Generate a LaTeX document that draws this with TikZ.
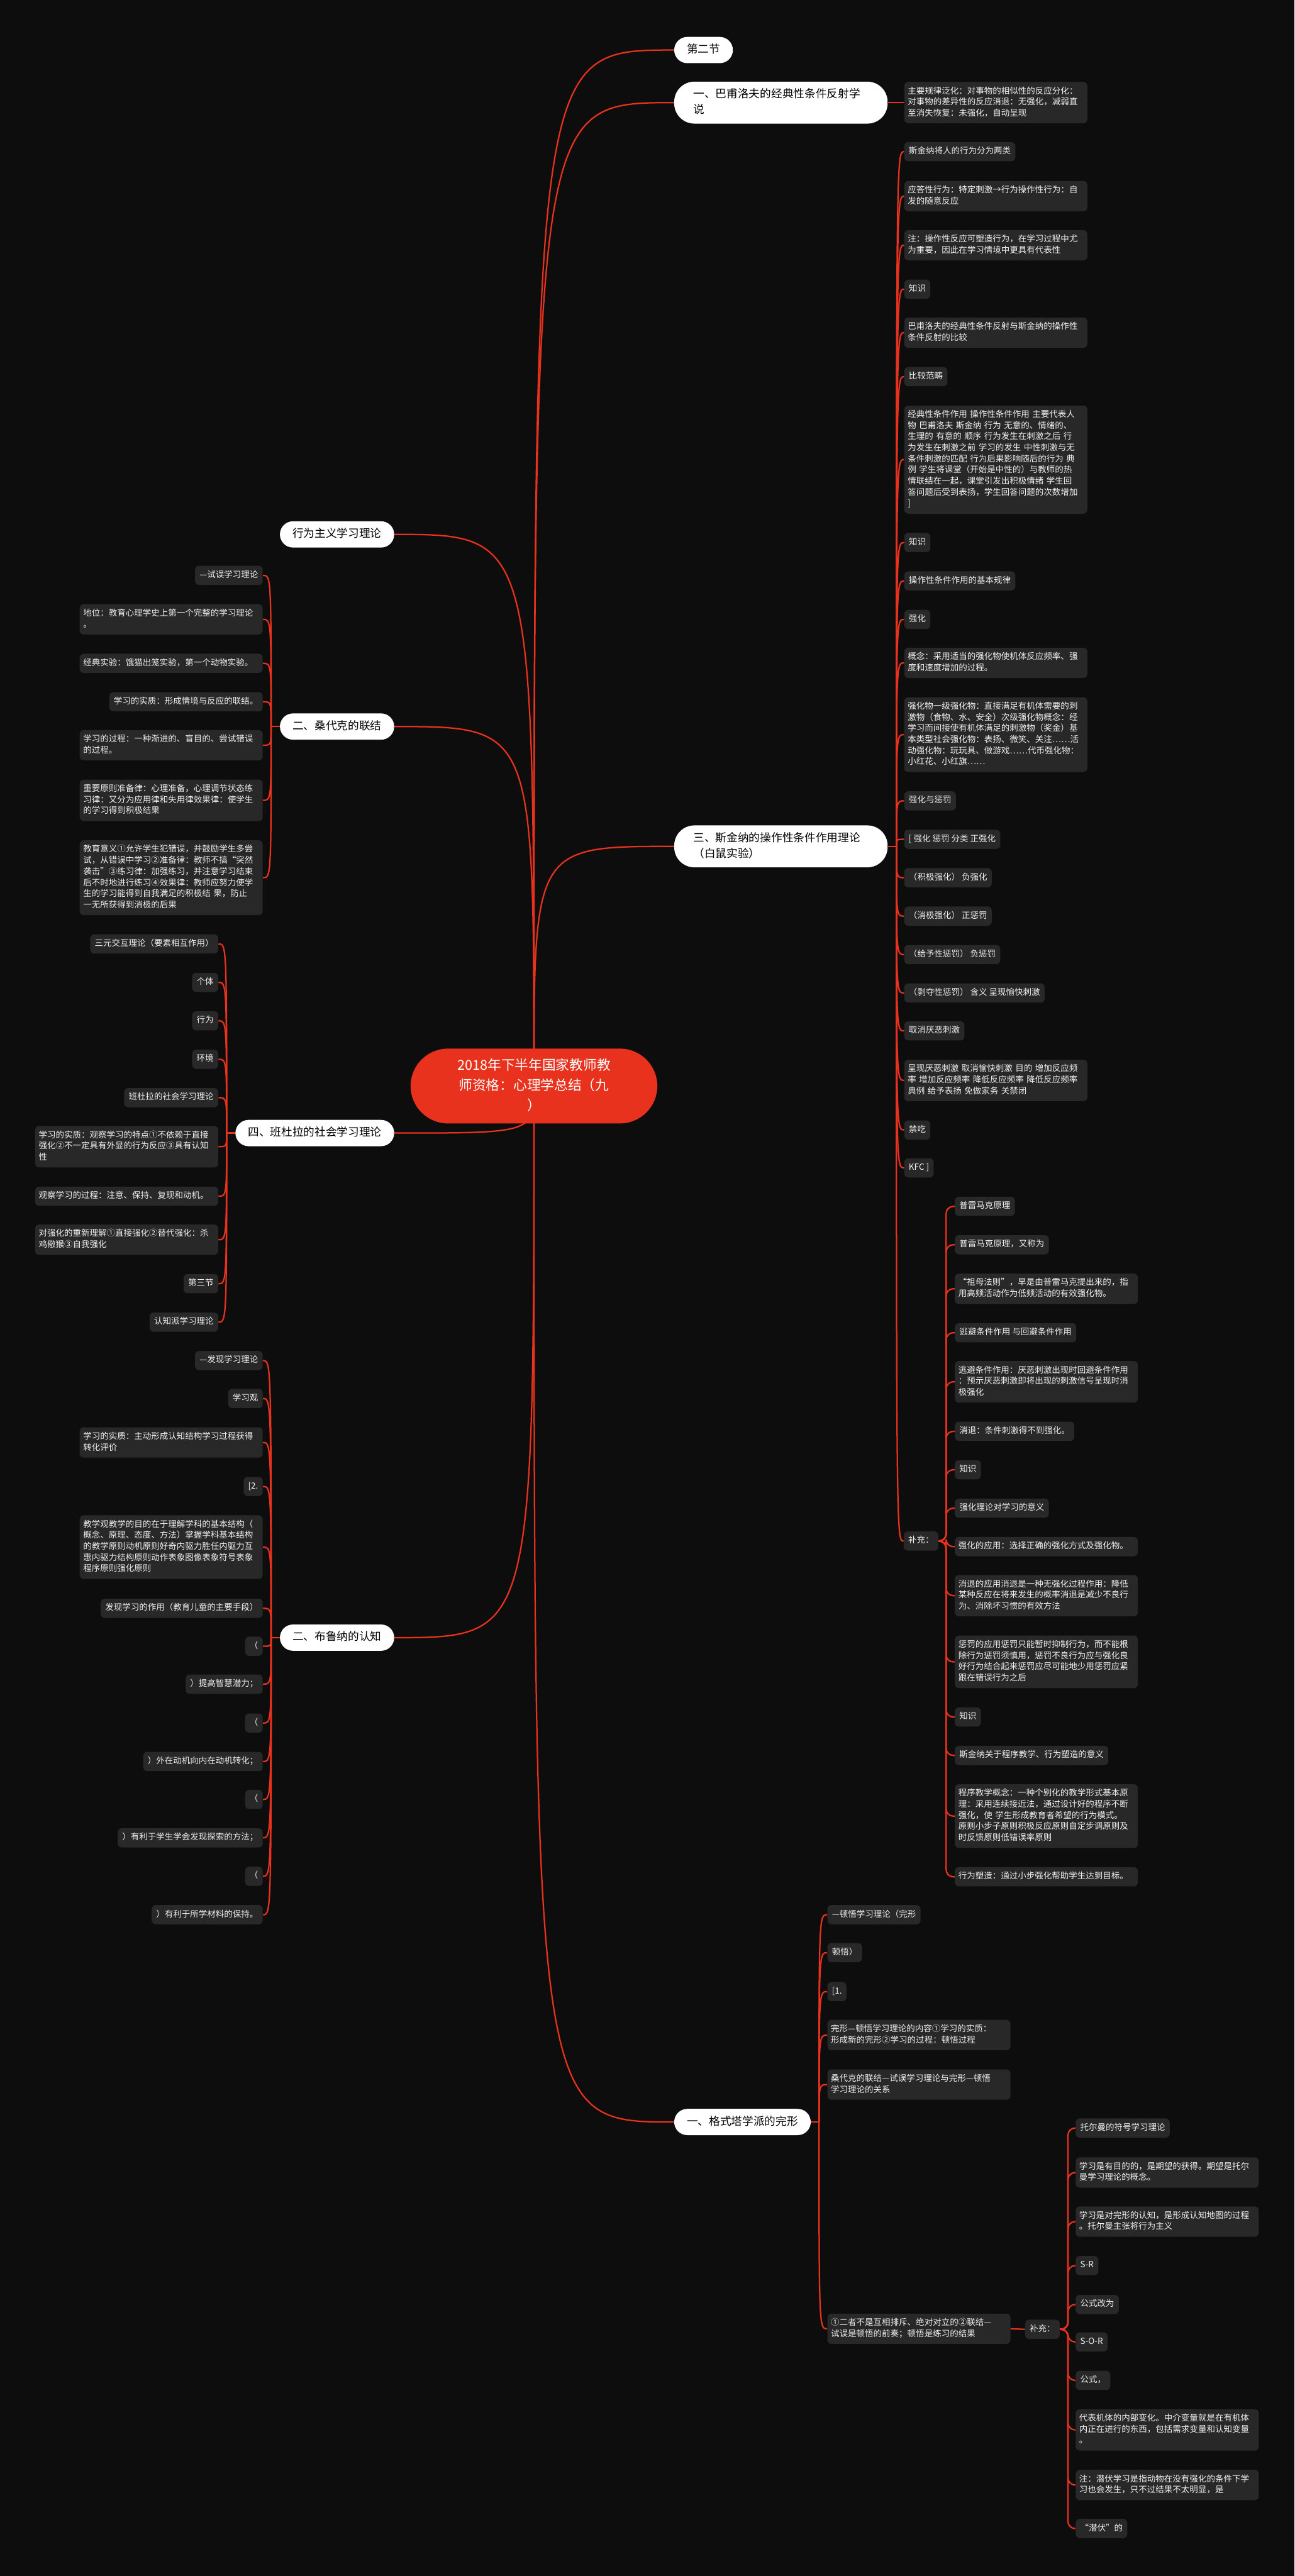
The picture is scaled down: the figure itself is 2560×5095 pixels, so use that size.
\documentclass[tikz,border=0pt]{standalone}
\usepackage{fontspec}
\newfontfamily\cjk{Noto Sans CJK SC}
\definecolor{bgc}{RGB}{13,13,13}
\definecolor{leafc}{RGB}{40,40,40}
\definecolor{redc}{RGB}{232,50,30}
\definecolor{txtc}{RGB}{242,242,242}
\pgfdeclarelayer{bglayer}
\pgfsetlayers{bglayer,main}
\begin{document}
\begin{tikzpicture}[x=0.5pt,y=-0.5pt,
  conn/.style={draw=redc, line width=1.4pt},
  leaf/.style={fill=leafc, rounded corners=4pt, text=txtc, font=\cjk\fontsize{8.4}{11}\selectfont, inner xsep=4.5pt, inner ysep=4pt, execute at begin node=\strut, execute at end node=\strut},
  leafw/.style={leaf, inner xsep=3.5pt, text width=174pt, align=left},
  brn/.style={fill=white, text=black, rounded corners=13pt, font=\cjk\fontsize{11}{15.5}\selectfont, inner xsep=12.5pt, inner ysep=5.25pt, execute at begin node=\strut, execute at end node=\strut},
  brw/.style={brn, rounded corners=20pt, inner xsep=19pt, text width=173pt, align=left},
  ctr/.style={fill=redc, text=white, rounded corners=37pt, font=\cjk\fontsize{13.5}{20}\selectfont, text width=170pt, align=center, inner xsep=37pt, inner ysep=7pt, execute at begin node=\strut, execute at end node=\strut}
]
\useasboundingbox (0,0) rectangle (2560,5095);
\begin{pgfonlayer}{bglayer}
\fill[bgc] (0,0) rectangle (2560,5095);
\end{pgfonlayer}

% center
\node[ctr] (c) at (1056,2148) {2018年下半年国家教师教\\师资格：心理学总结（九\\）};

% right branches
\node[brn, anchor=west] (r1) at (1333,99) {第二节};
\node[brw, anchor=west] (r2) at (1333,203) {一、巴甫洛夫的经典性条件反射学\\说};
\node[brw, anchor=west] (r3) at (1333,1674) {三、斯金纳的操作性条件作用理论\\（白鼠实验）};
\node[brn, anchor=west] (r4) at (1333,4197) {一、格式塔学派的完形};
% left branches
\node[brn, anchor=east] (l1) at (780,1057) {行为主义学习理论};
\node[brn, anchor=east] (l2) at (780,1437) {二、桑代克的联结};
\node[brn, anchor=east] (l3) at (780,2241) {四、班杜拉的社会学习理论};
\node[brn, anchor=east] (l4) at (780,3239) {二、布鲁纳的认知};

% Pavlov leaf
\node[leafw, anchor=west] (p1) at (1788,203) {主要规律泛化：对事物的相似性的反应分化：\\对事物的差异性的反应消退：无强化，减弱直\\至消失恢复：未强化，自动呈现};

% Skinner leaves
\node[leaf, anchor=west] (s1) at (1788,300) {斯金纳将人的行为分为两类};
\node[leafw, anchor=west] (s2) at (1788,388) {应答性行为：特定刺激→行为操作性行为：自\\发的随意反应};
\node[leafw, anchor=west] (s3) at (1788,485) {注：操作性反应可塑造行为，在学习过程中尤\\为重要，因此在学习情境中更具有代表性};
\node[leaf, anchor=west] (s4) at (1788,572) {知识};
\node[leafw, anchor=west] (s5) at (1788,658) {巴甫洛夫的经典性条件反射与斯金纳的操作性\\条件反射的比较};
\node[leaf, anchor=west] (s6) at (1788,745) {比较范畴};
\node[leafw, anchor=west] (s7) at (1788,909) {经典性条件作用 操作性条件作用 主要代表人\\物 巴甫洛夫 斯金纳 行为 无意的、情绪的、\\生理的 有意的 顺序 行为发生在刺激之后 行\\为发生在刺激之前 学习的发生 中性刺激与无\\条件刺激的匹配 行为后果影响随后的行为 典\\例 学生将课堂（开始是中性的）与教师的热\\情联结在一起，课堂引发出积极情绪 学生回\\答问题后受到表扬，学生回答问题的次数增加\\ ]};
\node[leaf, anchor=west] (s8) at (1788,1073) {知识};
\node[leaf, anchor=west] (s9) at (1788,1149) {操作性条件作用的基本规律};
\node[leaf, anchor=west] (s10) at (1788,1225) {强化};
\node[leafw, anchor=west] (s11) at (1788,1311) {概念：采用适当的强化物使机体反应频率、强\\度和速度增加的过程。};
\node[leafw, anchor=west] (s12) at (1788,1453) {强化物一级强化物：直接满足有机体需要的刺\\激物（食物、水、安全）次级强化物概念：经\\学习而间接使有机体满足的刺激物（奖金）基\\本类型社会强化物：表扬、微笑、关注……活\\动强化物：玩玩具、做游戏……代币强化物：\\小红花、小红旗……};
\node[leaf, anchor=west] (s13) at (1788,1584) {强化与惩罚};
\node[leaf, anchor=west] (s14) at (1788,1660) {[ 强化 惩罚 分类 正强化};
\node[leaf, anchor=west] (s15) at (1788,1736) {（积极强化） 负强化};
\node[leaf, anchor=west] (s16) at (1788,1812) {（消极强化） 正惩罚};
\node[leaf, anchor=west] (s17) at (1788,1888) {（给予性惩罚） 负惩罚};
\node[leaf, anchor=west] (s18) at (1788,1964) {（剥夺性惩罚） 含义 呈现愉快刺激};
\node[leaf, anchor=west] (s19) at (1788,2039) {取消厌恶刺激};
\node[leafw, anchor=west] (s20) at (1788,2137) {呈现厌恶刺激 取消愉快刺激 目的 增加反应频\\率 增加反应频率 降低反应频率 降低反应频率\\ 典例 给予表扬 免做家务 关禁闭};
\node[leaf, anchor=west] (s21) at (1788,2235) {禁吃};
\node[leaf, anchor=west] (s22) at (1788,2310) {KFC ]};
\node[leaf, anchor=west] (sb) at (1787,3048) {补充：};

% Skinner supplement children
\node[leaf, anchor=west] (sb1) at (1888,2386) {普雷马克原理};
\node[leaf, anchor=west] (sb2) at (1888,2462) {普雷马克原理，又称为};
\node[leafw, anchor=west] (sb3) at (1888,2549) {“祖母法则”，早是由普雷马克提出来的，指\\用高频活动作为低频活动的有效强化物。};
\node[leaf, anchor=west] (sb4) at (1888,2636) {逃避条件作用 与回避条件作用};
\node[leafw, anchor=west] (sb5) at (1888,2733) {逃避条件作用：厌恶刺激出现时回避条件作用\\：预示厌恶刺激即将出现的刺激信号呈现时消\\极强化};
\node[leaf, anchor=west] (sb6) at (1888,2831) {消退：条件刺激得不到强化。};
\node[leaf, anchor=west] (sb7) at (1888,2907) {知识};
\node[leaf, anchor=west] (sb8) at (1888,2983) {强化理论对学习的意义};
\node[leafw, anchor=west] (sb9) at (1888,3059) {强化的应用：选择正确的强化方式及强化物。};
\node[leafw, anchor=west] (sb10) at (1888,3156) {消退的应用消退是一种无强化过程作用：降低\\某种反应在将来发生的概率消退是减少不良行\\为、消除坏习惯的有效方法};
\node[leafw, anchor=west] (sb11) at (1888,3287) {惩罚的应用惩罚只能暂时抑制行为，而不能根\\除行为惩罚须慎用，惩罚不良行为应与强化良\\好行为结合起来惩罚应尽可能地少用惩罚应紧\\跟在错误行为之后};
\node[leaf, anchor=west] (sb12) at (1888,3396) {知识};
\node[leaf, anchor=west] (sb13) at (1888,3472) {斯金纳关于程序教学、行为塑造的意义};
\node[leafw, anchor=west] (sb14) at (1888,3592) {程序教学概念：一种个别化的教学形式基本原\\理：采用连续接近法，通过设计好的程序不断\\强化，使 学生形成教育者希望的行为模式。\\原则小步子原则积极反应原则自定步调原则及\\时反馈原则低错误率原则};
\node[leafw, anchor=west] (sb15) at (1888,3712) {行为塑造：通过小步强化帮助学生达到目标。};

% Thorndike leaves
\node[leaf, anchor=east] (t1) at (520,1138) {—试误学习理论};
\node[leafw, anchor=east] (t2) at (520,1225) {地位：教育心理学史上第一个完整的学习理论\\。};
\node[leafw, anchor=east] (t3) at (520,1312) {经典实验：饿猫出笼实验，第一个动物实验。};
\node[leaf, anchor=east] (t4) at (520,1388) {学习的实质：形成情境与反应的联结。};
\node[leafw, anchor=east] (t5) at (520,1474) {学习的过程：一种渐进的、盲目的、尝试错误\\的过程。};
\node[leafw, anchor=east] (t6) at (520,1583) {重要原则准备律：心理准备，心理调节状态练\\习律：又分为应用律和失用律效果律：使学生\\的学习得到积极结果};
\node[leafw, anchor=east] (t7) at (520,1736) {教育意义①允许学生犯错误，并鼓励学生多尝\\试，从错误中学习②准备律：教师不搞“突然\\袭击”③练习律：加强练习，并注意学习结束\\后不时地进行练习④效果律：教师应努力使学\\生的学习能得到自我满足的积极结 果，防止\\一无所获得到消极的后果};

% Bandura leaves
\node[leaf, anchor=east] (n1) at (432,1867) {三元交互理论（要素相互作用）};
\node[leaf, anchor=east] (n2) at (432,1943) {个体};
\node[leaf, anchor=east] (n3) at (432,2019) {行为};
\node[leaf, anchor=east] (n4) at (432,2095) {环境};
\node[leaf, anchor=east] (n5) at (432,2171) {班杜拉的社会学习理论};
\node[leafw, anchor=east] (n6) at (432,2268) {学习的实质：观察学习的特点①不依赖于直接\\强化②不一定具有外显的行为反应③具有认知\\性};
\node[leafw, anchor=east] (n7) at (432,2366) {观察学习的过程：注意、保持、复现和动机。};
\node[leafw, anchor=east] (n8) at (432,2452) {对强化的重新理解①直接强化②替代强化：杀\\鸡儆猴③自我强化};
\node[leaf, anchor=east] (n9) at (432,2539) {第三节};
\node[leaf, anchor=east] (n10) at (432,2615) {认知派学习理论};

% Bruner leaves
\node[leaf, anchor=east] (b1) at (520,2691) {—发现学习理论};
\node[leaf, anchor=east] (b2) at (520,2766) {学习观};
\node[leafw, anchor=east] (b3) at (520,2853) {学习的实质：主动形成认知结构学习过程获得\\转化评价};
\node[leaf, anchor=east] (b4) at (520,2940) {[2.};
\node[leafw, anchor=east] (b5) at (520,3060) {教学观教学的目的在于理解学科的基本结构（\\概念、原理、态度、方法）掌握学科基本结构\\的教学原则动机原则好奇内驱力胜任内驱力互\\惠内驱力结构原则动作表象图像表象符号表象\\程序原则强化原则};
\node[leaf, anchor=east] (b6) at (520,3181) {发现学习的作用（教育儿童的主要手段）};
\node[leaf, anchor=east] (b7) at (520,3256) {（};
\node[leaf, anchor=east] (b8) at (520,3331) {）提高智慧潜力；};
\node[leaf, anchor=east] (b9) at (520,3408) {（};
\node[leaf, anchor=east] (b10) at (520,3484) {）外在动机向内在动机转化；};
\node[leaf, anchor=east] (b11) at (520,3559) {（};
\node[leaf, anchor=east] (b12) at (520,3635) {）有利于学生学会发现探索的方法；};
\node[leaf, anchor=east] (b13) at (520,3711) {（};
\node[leaf, anchor=east] (b14) at (520,3787) {）有利于所学材料的保持。};

% Gestalt leaves
\node[leaf, anchor=west] (g1) at (1636,3787) {—顿悟学习理论（完形};
\node[leaf, anchor=west] (g2) at (1636,3862) {顿悟）};
\node[leaf, anchor=west] (g3) at (1636,3939) {[1.};
\node[leafw, anchor=west] (g4) at (1636,4025) {完形—顿悟学习理论的内容①学习的实质：\\形成新的完形②学习的过程：顿悟过程};
\node[leafw, anchor=west] (g5) at (1636,4123) {桑代克的联结—试误学习理论与完形—顿悟\\学习理论的关系};
\node[leafw, anchor=west] (g6) at (1636,4606) {①二者不是互相排斥、绝对对立的②联结—\\试误是顿悟的前奏；顿悟是练习的结果};
\node[leaf, anchor=west] (gb) at (2027,4607) {补充：};

% Gestalt supplement children
\node[leaf, anchor=west] (gb1) at (2127,4209) {托尔曼的符号学习理论};
\node[leafw, anchor=west] (gb2) at (2127,4297) {学习是有目的的，是期望的获得。期望是托尔\\曼学习理论的概念。};
\node[leafw, anchor=west] (gb3) at (2127,4394) {学习是对完形的认知，是形成认知地图的过程\\。托尔曼主张将行为主义};
\node[leaf, anchor=west] (gb4) at (2127,4481) {S-R};
\node[leaf, anchor=west] (gb5) at (2127,4558) {公式改为};
\node[leaf, anchor=west] (gb6) at (2127,4632) {S-O-R};
\node[leaf, anchor=west] (gb7) at (2127,4708) {公式，};
\node[leafw, anchor=west] (gb8) at (2127,4806) {代表机体的内部变化。中介变量就是在有机体\\内正在进行的东西，包括需求变量和认知变量\\。};
\node[leafw, anchor=west] (gb9) at (2127,4915) {注：潜伏学习是指动物在没有强化的条件下学\\习也会发生，只不过结果不太明显，是};
\node[leaf, anchor=west] (gb10) at (2127,5001) {“潜伏”的};

% connectors
\begin{pgfonlayer}{bglayer}
\foreach \b in {r1,r2,r3,r4} {
  \draw[conn] (c.center) .. controls (c.center |- \b.west) .. (\b.west);
}
\foreach \b in {l1,l2,l3,l4} {
  \draw[conn] (c.center) .. controls (c.center |- \b.east) .. (\b.east);
}
\draw[conn] (r2.east) -- (p1.west);
% Skinner
\path (r3.east) ++(17,0) coordinate (r3s);
\draw[conn] (r3.east) -- (r3s);
\foreach \i in {1,...,22} {
  \draw[conn] (r3s) .. controls (r3s |- s\i.west) .. (s\i.west);
}
\draw[conn] (r3s) .. controls (r3s |- sb.west) .. (sb.west);
\path (sb.east) ++(15,0) coordinate (sbs);
\foreach \i in {1,...,15} {
  \draw[conn, rounded corners=7pt] (sb.east) -- (sbs) |- (sb\i.west);
}
% Thorndike
\path (l2.west) ++(-17,0) coordinate (l2s);
\draw[conn] (l2.west) -- (l2s);
\foreach \i in {1,...,7} {
  \draw[conn] (l2s) .. controls (l2s |- t\i.east) .. (t\i.east);
}
% Bandura
\path (l3.west) ++(-17,0) coordinate (l3s);
\draw[conn] (l3.west) -- (l3s);
\foreach \i in {1,...,10} {
  \draw[conn] (l3s) .. controls (l3s |- n\i.east) .. (n\i.east);
}
% Bruner
\path (l4.west) ++(-17,0) coordinate (l4s);
\draw[conn] (l4.west) -- (l4s);
\foreach \i in {1,...,14} {
  \draw[conn] (l4s) .. controls (l4s |- b\i.east) .. (b\i.east);
}
% Gestalt
\path (r4.east) ++(16,0) coordinate (r4s);
\draw[conn] (r4.east) -- (r4s);
\foreach \i in {1,...,6} {
  \draw[conn] (r4s) .. controls (r4s |- g\i.west) .. (g\i.west);
}
\draw[conn] (g6.east) -- (gb.west);
\path (gb.east) ++(16,0) coordinate (gbs);
\foreach \i in {1,...,10} {
  \draw[conn, rounded corners=7pt] (gb.east) -- (gbs) |- (gb\i.west);
}
\end{pgfonlayer}
\end{tikzpicture}
\end{document}
